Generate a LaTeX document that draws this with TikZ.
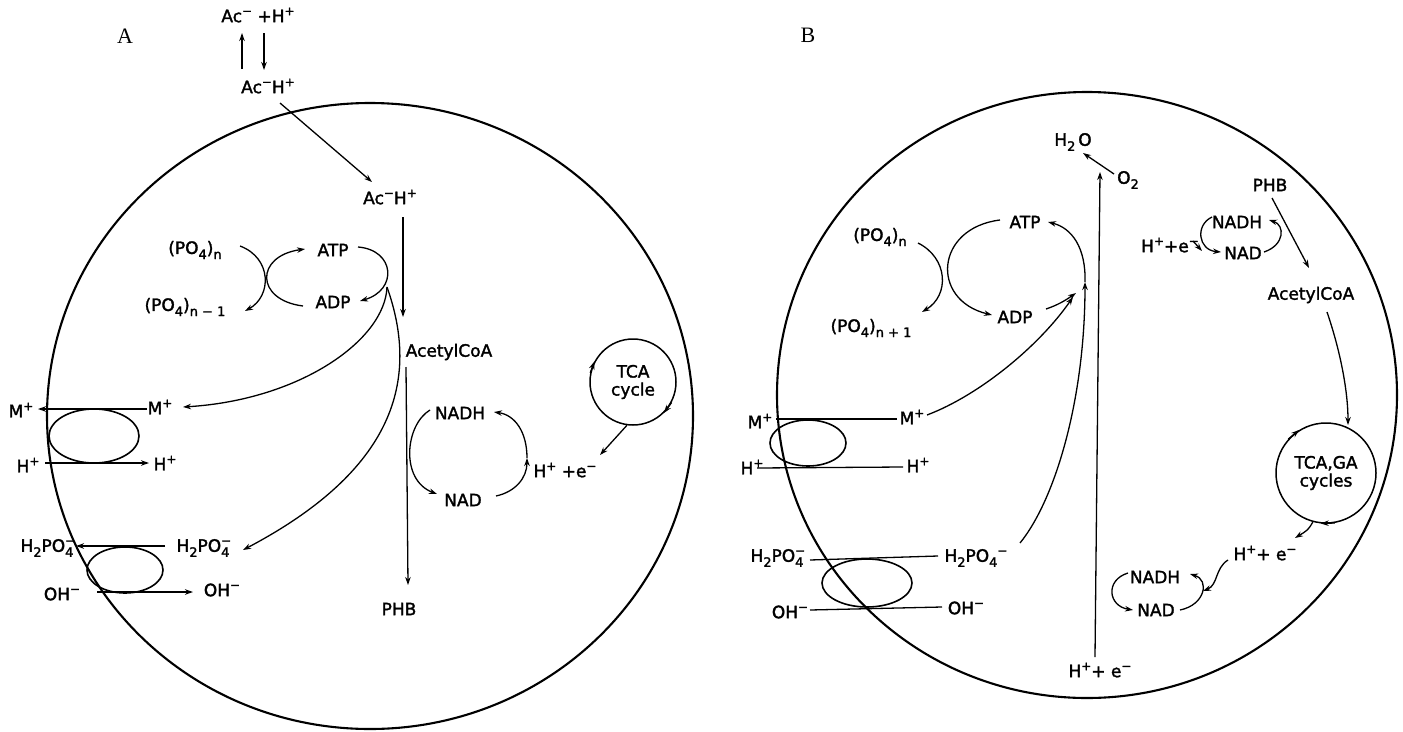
\documentclass[tikz,border=0pt]{standalone}
\usepackage{fontspec}
\setmainfont[FakeBold=1.8]{DejaVu Sans}
\newfontfamily\labfont{Liberation Serif}
\usetikzlibrary{arrows.meta}
\newcommand\up[1]{\raisebox{0.75ex}{\fontsize{12}{12}\selectfont #1}}
\newcommand\dn[1]{\raisebox{-0.55ex}{\fontsize{13}{13}\selectfont #1}}
\newcommand\ud[2]{\rlap{\up{#1}}\dn{#2}}
\begin{document}
\begin{tikzpicture}[x=1pt,y=-1pt,
  lbl/.style={inner sep=0.5pt,font=\fontsize{17}{18}\selectfont},
  panel/.style={font=\labfont\fontsize{22}{22}\selectfont},
  arr/.style={line width=1.3pt,-{Stealth[length=8pt,width=5.5pt]}},
  ln/.style={line width=1.3pt},
  cell/.style={line width=2.1pt},
  carrier/.style={line width=1.6pt},
  cyc/.style={draw,circle,line width=1.5pt,align=center,inner sep=0pt,font=\fontsize{17}{18}\selectfont}]
\useasboundingbox (0,0) rectangle (1403,731);

% ---------------- Panel A ----------------
\node[panel] (labA) at (125,36) {A};
\draw[cell] (370,416) ellipse [x radius=323, y radius=313];
\node[lbl] (acpH) at (258,15) {Ac\up{−} +H\up{+}};
\node[lbl] (acH1) at (268,86) {Ac\up{−}H\up{+}};
\coordinate (u1) at (242,69); \coordinate (u2) at (242,33);
\coordinate (d1) at (264,33); \coordinate (d2) at (264,70);
\draw[arr] (u1) -- (u2);
\draw[arr] (d1) -- (d2);
\node[lbl] (acH2) at (390,197) {Ac\up{−}H\up{+}};
\coordinate (e1) at (280,103); \coordinate (e2) at (372,182);
\draw[arr] (e1) -- (e2);
\node[lbl] (acoaA) at (449,352) {AcetylCoA};
\node[lbl] (phbA) at (399,609) {PHB};
\coordinate (v1) at (403,217); \coordinate (v2) at (403,317);
\draw[arr] (v1) -- (v2);
\coordinate (v3) at (406,367); \coordinate (v4) at (408,585);
\draw[arr] (v3) -- (v4);

\node[lbl] (po4nA) at (195,250) {(PO\dn{4})\dn{n}};
\node[lbl] (po4n1A) at (185,307) {(PO\dn{4})\dn{n − 1}};
\node[lbl] (atpA) at (333,250) {ATP};
\node[lbl] (adpA) at (333,302) {ADP};
\draw[arr] (240,246) .. controls (272,258) and (272,296) .. (245,311);
\draw[arr] (303,306) .. controls (255,300) and (255,256) .. (305,249);
\draw[arr] (358,247) .. controls (395,250) and (398,290) .. (360,301);
\coordinate (brA) at (387,287);
\node[lbl] (mA) at (160,407) {M\up{+}};
\draw[arr] (brA) .. controls (385,340) and (300,400) .. (183,407);
\node[lbl] (h2poA) at (203,548) {H\dn{2}PO\ud{−}{4}};
\draw[arr] (brA) .. controls (420,380) and (395,470) .. (243,550);

\node[lbl] (moA) at (21,410) {M\up{+}};
\draw[arr] (147,409) -- (38,409);
\draw[carrier] (94,436) ellipse [x radius=45, y radius=27];
\node[lbl] (hoA) at (28,465) {H\up{+}};
\node[lbl] (hA) at (165,463) {H\up{+}};
\draw[arr] (45,463) -- (149,463);
\node[lbl] (h2poOA) at (47,548) {H\dn{2}PO\ud{−}{4}};
\draw[arr] (165,546) -- (76,546);
\draw[carrier] (125,570) ellipse [x radius=38, y radius=23];
\node[lbl] (ohoA) at (62,594) {OH\up{−}};
\node[lbl] (ohA) at (222,590) {OH\up{−}};
\draw[arr] (97,592) -- (193,592);

\node[lbl] (nadhA) at (460,413) {NADH};
\node[lbl] (nadA) at (463,500) {NAD};
\draw[arr] (430,410) .. controls (405,425) and (400,480) .. (437,494);
\coordinate (jA) at (527,458);
\draw[arr] (496,496) .. controls (515,492) and (527,478) .. (jA);
\draw[arr] (jA) .. controls (527,432) and (515,415) .. (494,412);
\node[lbl] (hpeA) at (565,470) {H\up{+} +e\up{−}};
\node[cyc,minimum size=86pt] (tcaA) at (633,382) {TCA\\cycle};
\draw[arr] (tcaA.168) -- (tcaA.152);
\draw[arr] (tcaA.-28) -- (tcaA.-45);
\coordinate (tA) at (600,455);
\draw[arr] (tcaA.-98) -- (tA);

% ---------------- Panel B ----------------
\node[panel] (labB) at (808,35) {B};
\draw[cell] (1087,395) ellipse [x radius=310, y radius=303];
\node[lbl] (h2oB) at (1073,142) {H\dn{2}\,O};
\node[lbl] (o2B) at (1128,180) {O\dn{2}};
\coordinate (o1) at (1114,174); \coordinate (o2) at (1083,153);
\draw[arr] (o1) -- (o2);
\node[lbl] (hpeB0) at (1100,670) {H\up{+}+ e\up{−}};
\coordinate (w1) at (1095,657); \coordinate (w2) at (1100,172);
\draw[arr] (w1) -- (w2);
\node[lbl] (po4nB) at (880,237) {(PO\dn{4})\dn{n}};
\node[lbl] (po4n1B) at (871,328) {(PO\dn{4})\dn{n + 1}};
\node[lbl] (atpB) at (1025,222) {ATP};
\node[lbl] (adpB) at (1015,317) {ADP};
\draw[arr] (918,243) .. controls (948,258) and (950,295) .. (922,312);
\draw[arr] (1000,220) .. controls (935,228) and (930,300) .. (992,315);
\coordinate (jB) at (1085,282);
\draw[arr] (1046,309) .. controls (1058,305) and (1066,300) .. (1076,293);
\draw[arr] (jB) .. controls (1086,248) and (1072,228) .. (1048,222);
\node[lbl] (mB) at (912,417) {M\up{+}};
\draw[arr] (927,415) .. controls (980,395) and (1040,345) .. (1073,297);
\node[lbl] (h2poB) at (976,558) {H\dn{2}PO\dn{4}\up{−}};
\draw[arr] (1020,543) .. controls (1055,500) and (1085,400) .. (jB);

\node[lbl] (moB) at (760,421) {M\up{+}};
\draw[ln] (897,419) -- (776,419);
\draw[carrier] (808,443) ellipse [x radius=38, y radius=23];
\node[lbl] (hB) at (918,465) {H\up{+}};
\node[lbl] (hoB) at (752,467) {H\up{+}};
\draw[ln] (903,467) -- (757,468);
\node[lbl] (h2poOB) at (777,558) {H\dn{2}PO\ud{−}{4}};
\draw[ln] (810,560) -- (938,556);
\draw[carrier] (867,583) ellipse [x radius=45, y radius=24];
\node[lbl] (ohoB) at (790,612) {OH\up{−}};
\draw[ln] (810,610) -- (942,607);
\node[lbl] (ohB) at (966,608) {OH\up{−}};

\node[lbl] (phbB) at (1270,185) {PHB};
\node[lbl] (acoaB) at (1311,295) {AcetylCoA};
\coordinate (p1) at (1272,198); \coordinate (p2) at (1309,268);
\draw[arr] (p1) -- (p2);
\node[lbl] (nadhB1) at (1237,222) {NADH};
\node[lbl] (nadB1) at (1243,253) {NAD};
\node[lbl] (hpeB1) at (1170,245) {H\up{+}+e\up{−}};
\draw[arr] (1212,217) .. controls (1195,225) and (1198,250) .. (1221,252);
\draw[arr] (1264,252) .. controls (1285,245) and (1285,225) .. (1269,220);
\draw[arr] (1193,241) -- (1202,251);
\node[cyc,minimum size=100pt] (tcaB) at (1326,473) {TCA,GA\\cycles};
\draw[arr] (1327,312) .. controls (1340,350) and (1348,390) .. (1348,425);
\draw[arr] (tcaB.138) -- (tcaB.122);
\draw[arr] (tcaB.-80) -- (tcaB.-96);
\node[lbl] (hpeB2) at (1265,553) {H\up{+}+ e\up{−}};
\coordinate (tB) at (1295,538);
\draw[arr] (tcaB.-105) .. controls (1308,530) .. (tB);
\node[lbl] (nadhB2) at (1155,577) {NADH};
\node[lbl] (nadB2) at (1156,610) {NAD};
\draw[arr] (1228,560) .. controls (1215,568) and (1218,585) .. (1203,591);
\draw[arr] (1128,573) .. controls (1105,580) and (1108,606) .. (1133,610);
\draw[arr] (1180,610) .. controls (1205,605) and (1210,580) .. (1190,574);
\end{tikzpicture}
\end{document}
